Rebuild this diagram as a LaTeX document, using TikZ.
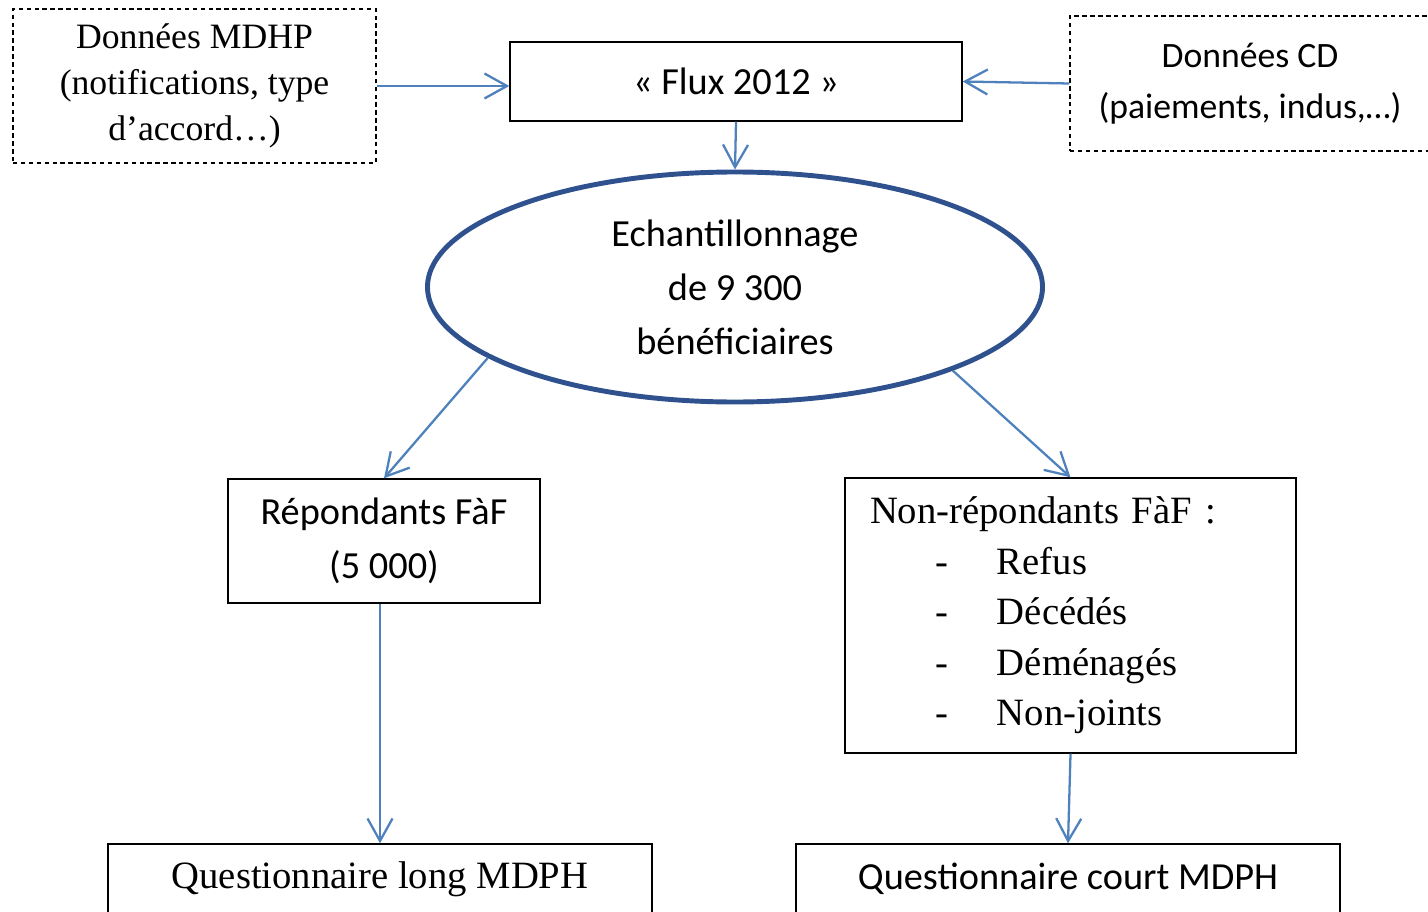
\documentclass[tikz,border=0pt]{standalone}
\usepackage{fontspec}
\setmainfont{Liberation Serif}
\newfontfamily\calibri{Carlito}
\usetikzlibrary{shapes.geometric,arrows.meta}
\definecolor{arrowblue}{RGB}{79,129,189}
\definecolor{ellblue}{RGB}{47,82,143}

\begin{document}
\begin{tikzpicture}[
  box/.style={draw, rectangle, line width=0.8pt, align=center},
  dbox/.style={box, dash pattern=on 2.5pt off 2pt},
  link/.style={draw=arrowblue, line width=1.3pt, -{Straight Barb[length=0.45cm, width=0.5cm]}},
  serif/.style={font=\fontsize{22}{28.7}\selectfont},
  sans/.style={font=\calibri\fontsize{21.8}{30.7}\selectfont}
]
\useasboundingbox (0,0) rectangle (28.56,-18.22);

\node[dbox, font=\fontsize{20.3}{26}\selectfont, minimum width=7.26cm, minimum height=3.08cm] (mdhp) at (3.89,-1.72) {Données MDHP\\(notifications, type\\d’accord…)};
\node[box, sans, minimum width=9.04cm, minimum height=1.58cm] (flux) at (14.72,-1.63) {« Flux 2012 »};
\node[dbox, font=\calibri\fontsize{20.3}{29}\selectfont, minimum width=7.2cm, minimum height=2.7cm] (cd) at (25.0,-1.67) {Données CD\\(paiements, indus,…)};

\node[draw=ellblue, ellipse, line width=2.8pt, sans, align=center, minimum width=12.3cm, minimum height=4.6cm] (ell) at (14.7,-5.74) {Echantillonnage\\de 9 300\\bénéficiaires};

\node[box, sans, minimum width=6.24cm, minimum height=2.48cm] (rep) at (7.68,-10.82) {Répondants FàF\\(5 000)};
\node[box, serif, align=left, text width=8.02cm, inner xsep=0.5cm, minimum height=5.5cm] (nonrep) at (21.41,-12.31) {\mbox{Non-répondants FàF :}\\
\hspace*{1.3cm}\makebox[1.24cm][l]{-}Refus\\
\hspace*{1.3cm}\makebox[1.24cm][l]{-}Décédés\\
\hspace*{1.3cm}\makebox[1.24cm][l]{-}Déménagés\\
\hspace*{1.3cm}\makebox[1.24cm][l]{-}Non-joints};

\node[box, serif, minimum width=10.88cm, minimum height=1.4cm] (qlong) at (7.6,-17.58) {Questionnaire long MDPH};
\node[box, sans, minimum width=10.88cm, minimum height=1.4cm] (qcourt) at (21.36,-17.58) {Questionnaire court MDPH};

\draw[link] (mdhp.east) -- (mdhp.east -| flux.west);
\draw[link] (cd.west) -- (flux.east);
\draw[link] (flux.south) -- (ell.north);
\draw[link] (ell.196) -- (rep.north);
\draw[link] (ell.339) -- (nonrep.north);
\draw[link] (qlong.north |- rep.south) -- (qlong.north);
\draw[link] (nonrep.south) -- (qcourt.north);
\end{tikzpicture}
\end{document}
